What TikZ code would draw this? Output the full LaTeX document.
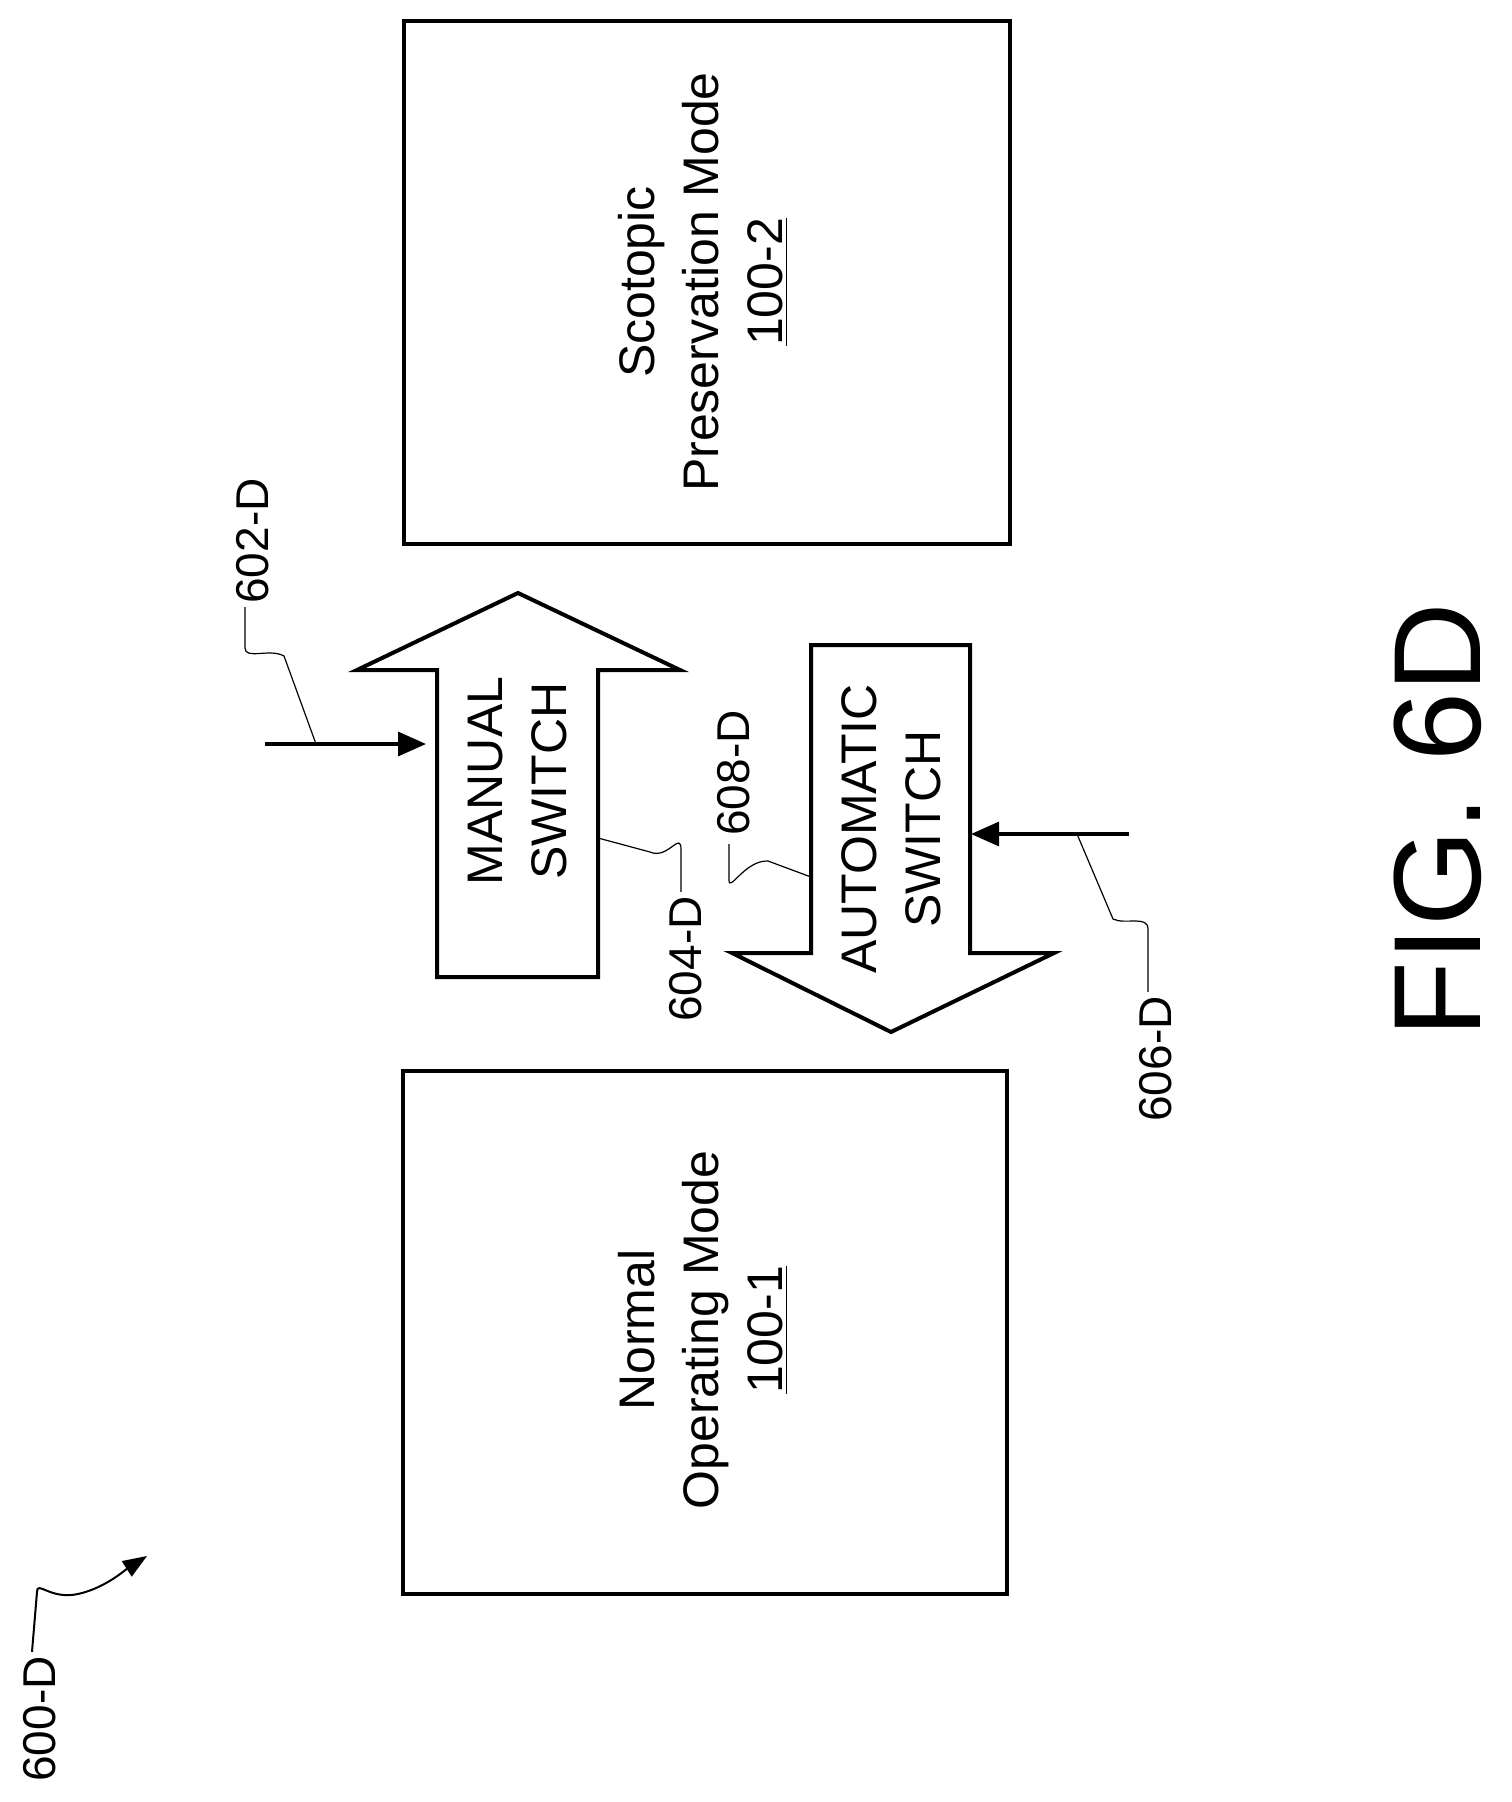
\documentclass[tikz,border=0pt]{standalone}
\usepackage{fontspec}
\setmainfont{Liberation Sans}
\usetikzlibrary{arrows.meta}
\begin{document}
\begin{tikzpicture}[x=0.5pt,y=-0.5pt,
  box/.style={line width=2pt},
  lbl/.style={rotate=90,font=\fontsize{23}{28}\selectfont,inner sep=0pt},
  big/.style={rotate=90,align=center,font=\fontsize{25}{32}\selectfont,inner sep=0pt},
  lead/.style={line width=0.6pt},
  conn/.style={line width=1.6pt,-{Triangle[length=14pt,width=12pt]}}]
\useasboundingbox (0,0) rectangle (1511,1802);
% boxes
\draw[box] (404,21) rectangle (1010,544);
\node[big] (scot) at (703,282) {Scotopic\\Preservation Mode\\\underline{100-2}};
\draw[box] (403,1071) rectangle (1007,1594);
\node[big] (norm) at (703,1330) {Normal\\Operating Mode\\\underline{100-1}};
% manual arrow (up)
\draw[box,line join=miter] (437,977) -- (437,670) -- (357,670) -- (518,593) -- (680,670) -- (598,670) -- (598,977) -- cycle;
\node[big] (man) at (518,781) {MANUAL\\SWITCH};
% automatic arrow (down)
\draw[box,line join=miter] (811,645) -- (970,645) -- (970,953) -- (1054,953) -- (891,1032) -- (732,953) -- (811,953) -- cycle;
\node[big] (aut) at (891,829) {AUTOMATIC\\SWITCH};
% 602-D
\node[lbl,anchor=west] (l602) at (253,604) {602-D};
\coordinate (s602) at (265,744);
\coordinate (e602) at (426,744);
\draw[conn] (s602) -- (e602);
\draw[lead] (l602.west) ++(-8,3) -- (245,648) .. controls (245,660) and (270,648) .. (284,656) -- (316,744);
% 604-D
\node[lbl,anchor=west] (l604) at (686,1022) {604-D};
\draw[lead] (l604.east) ++(-5,-4) -- (681,850) .. controls (681,830) and (668,860) .. (650,852) -- (598,838);
% 608-D
\node[lbl,anchor=west] (l608) at (734,836) {608-D};
\draw[lead] (l608.west) ++(-5,8) -- (729,880) .. controls (729,893) and (745,860) .. (768,861) -- (811,877);
% 606-D
\node[lbl,anchor=west] (l606) at (1156,1122) {606-D};
\coordinate (s606) at (1129,834);
\coordinate (e606) at (971,834);
\draw[conn] (s606) -- (e606);
\draw[lead] (l606.east) ++(-8,-4) -- (1148,929) .. controls (1148,915) and (1125,925) .. (1113,919) -- (1077,834);
% 600-D
\node[lbl,anchor=west] (l600) at (40,1782) {600-D};
\draw[lead,line width=1pt,-{Triangle[length=12pt,width=9pt]}] (l600.east) ++(-8,-4) -- (37,1592) .. controls (37,1580) and (50,1600) .. (78,1594) .. controls (105,1588) and (125,1570) .. (147,1556);
% figure label
\node[rotate=90,font=\fontsize{62}{70}\selectfont,inner sep=0pt] (fig) at (1438,820) {FIG. 6D};
\end{tikzpicture}
\end{document}
